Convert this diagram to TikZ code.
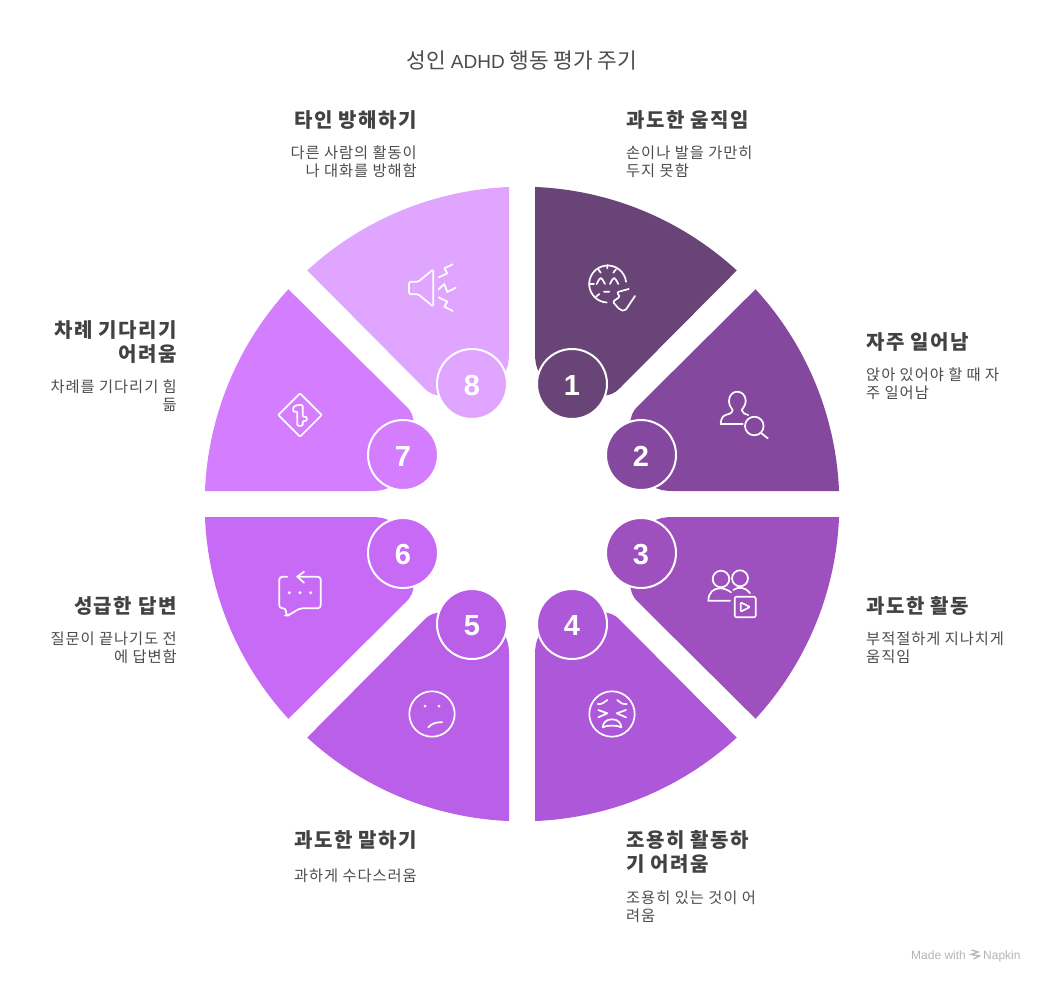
\documentclass[tikz,border=0pt]{standalone}
\usepackage{fontspec}
\setmainfont{Noto Sans CJK KR}
\newfontfamily\numfont{Liberation Sans}
\newfontfamily\headfont{Noto Sans CJK KR}[LetterSpace=7.7]
\newfontfamily\bodyfont{Noto Sans CJK KR}[LetterSpace=6.3]
\definecolor{wedgeone}{HTML}{694476}
\definecolor{wedgetwo}{HTML}{84499E}
\definecolor{wedgethree}{HTML}{9D50BE}
\definecolor{wedgefour}{HTML}{AD58D8}
\definecolor{wedgefive}{HTML}{BA60E8}
\definecolor{wedgesix}{HTML}{C76AF6}
\definecolor{wedgeseven}{HTML}{D47EFF}
\definecolor{wedgeeight}{HTML}{E0A5FF}
\definecolor{inktxt}{HTML}{424242}
\definecolor{softtxt}{HTML}{4C4C4C}
\definecolor{marktxt}{HTML}{B4B4B4}
\newcommand{\wedgeA}[1]{\fill[#1] (13,-317.03) arc[start angle=-87.65,end angle=-47.4,radius=317.3] -- (98,-116) .. controls (92,-110) and (88,-109) .. (80,-108) -- (18,-130) .. controls (14,-136) and (13,-143) .. (13,-151) -- cycle;}
\newcommand{\wedgeB}[1]{\fill[#1] (317.03,-13) arc[start angle=-2.35,end angle=-42.6,radius=317.3] -- (116,-98) .. controls (110,-92) and (109,-88) .. (108,-80) -- (130,-18) .. controls (136,-14) and (143,-13) .. (151,-13) -- cycle;}
\tikzset{
  badge/.style={circle, draw=white, line width=2, minimum size=70, inner sep=0, text=white, text height=23.5, text depth=0, font=\numfont\bfseries\fontsize{29}{29}\selectfont},
  headtxt/.style={inner sep=0, yshift=-1, text=inktxt, font=\headfont\bfseries\fontsize{20}{24}\selectfont},
  bodytxt/.style={inner sep=0, yshift=-1, text=softtxt, font=\bodyfont\fontsize{15.3}{18}\selectfont},
  iconline/.style={draw=white, line width=1.7, line join=round, line cap=round},
  icondot/.style={fill=white},
  marktext/.style={inner sep=0, anchor=base west, text=marktxt, font=\numfont\fontsize{12}{12}\selectfont},
}
\begin{document}
\begin{tikzpicture}[x=1pt, y=-1pt]
    \fill[white] (0,0) rectangle (1044,982);
    \useasboundingbox (0,0) rectangle (1044,982);
    \foreach \sx/\sy/\cola/\colb in {1/1/wedgeone/wedgetwo, 1/-1/wedgefour/wedgethree, -1/-1/wedgefive/wedgesix, -1/1/wedgeeight/wedgeseven} {
      \begin{scope}[shift={(522,504)}, xscale=\sx, yscale=\sy]
        \wedgeA{\cola}
        \wedgeB{\colb}
      \end{scope}
    }
    \node[badge, fill=wedgeone] (n1) at (572,384) {1};
    \node[badge, fill=wedgetwo] (n2) at (641,455) {2};
    \node[badge, fill=wedgethree] (n3) at (641,553) {3};
    \node[badge, fill=wedgefour] (n4) at (572,624) {4};
    \node[badge, fill=wedgefive] (n5) at (472,624) {5};
    \node[badge, fill=wedgesix] (n6) at (403,553) {6};
    \node[badge, fill=wedgeseven] (n7) at (403,455) {7};
    \node[badge, fill=wedgeeight] (n8) at (472,384) {8};
    % texts
    \node[inner sep=0, text=softtxt, font=\fontsize{21.4}{24}\selectfont] (title) at (522,60) {성인 {\numfont\fontsize{19}{24}\selectfont ADHD} 행동 평가 주기};
    \node[headtxt, anchor=west] (h1) at (626,119) {과도한 움직임};
    \node[bodytxt, anchor=west, align=left] (b1) at (626,161) {손이나 발을 가만히\\두지 못함};
    \node[headtxt, anchor=west] (h2) at (866,341) {자주 일어남};
    \node[bodytxt, anchor=west, align=left] (b2) at (866,383) {앉아 있어야 할 때 자\\주 일어남};
    \node[headtxt, anchor=west] (h3) at (866,605) {과도한 활동};
    \node[bodytxt, anchor=west, align=left] (b3) at (866,647) {부적절하게 지나치게\\움직임};
    \node[headtxt, anchor=west, align=left] (h4) at (626,851) {조용히 활동하\\기 어려움};
    \node[bodytxt, anchor=west, align=left] (b4) at (626,905.5) {조용히 있는 것이 어\\려움};
    \node[headtxt, anchor=east] (h5) at (417,839) {과도한 말하기};
    \node[bodytxt, anchor=east] (b5) at (417,875) {과하게 수다스러움};
    \node[headtxt, anchor=east] (h6) at (177,605) {성급한 답변};
    \node[bodytxt, anchor=east, align=right] (b6) at (177,647) {질문이 끝나기도 전\\에 답변함};
    \node[headtxt, anchor=east, align=right] (h7) at (177,341) {차례 기다리기\\어려움};
    \node[bodytxt, anchor=east, align=right] (b7) at (177,395) {차례를 기다리기 힘\\듦};
    \node[headtxt, anchor=east] (h8) at (417,119) {타인 방해하기};
    \node[bodytxt, anchor=east, align=right] (b8) at (417,161) {다른 사람의 활동이\\나 대화를 방해함};
    % icon 1
    \draw[iconline] (607.7,284) ++(-7:18.5) arc[start angle=-7,end angle=-267,radius=18.5];
    \draw[iconline] (607.3,265) -- (607.3,268.3) (598.3,269.3) -- (600.7,272.7) (616,269.3) -- (613.3,272.7) (589.3,284) -- (594,284) (596,296.7) -- (599.3,294);
    \draw[iconline] (596.7,284) .. controls (600.7,276) .. (605,284) (610,284) .. controls (614,276) .. (618.3,284) (604,291.7) -- (609.3,291.7);
    \draw[iconline, rounded corners=2] (628.7,289) -- (616.7,292.3) -- (620,296.7) -- (612.7,301.7) -- (620,310) -- (625,311) -- (635,296);
    % icon 2
    \draw[iconline] (742.7,424) -- (720.7,424) .. controls (721,418) and (723,415.5) .. (727,414.5) .. controls (731,413.5) and (733,412) .. (732.7,410) .. controls (731,408) and (729,405) .. (729,401) .. controls (729,395.5) and (732.5,391.7) .. (737.3,391.7) .. controls (742,391.7) and (745.7,395.5) .. (745.7,401) .. controls (745.7,405) and (743,408) .. (741.7,410) .. controls (742,413) and (745,414) .. (748.3,415);
    \draw[iconline] (754.3,426) circle[radius=9.3] (760.7,432.7) -- (767.7,438.3);
    % icon 3
    \draw[iconline] (721,579) circle[radius=8.3] (740,578.3) circle[radius=8];
    \draw[iconline] (730,600.7) -- (708.3,600.7) .. controls (708.5,592) and (714,588.3) .. (720,588.3) .. controls (724,588.3) and (728,590) .. (731,592.3);
    \draw[iconline] (733.3,590) .. controls (738,586.5) and (745,586.5) .. (750,593.3);
    \draw[iconline, rounded corners=2] (734.7,596.7) rectangle (755.7,617.3);
    \draw[iconline, rounded corners=1] (740.7,602.3) -- (750,607) -- (740.7,611.7) -- cycle;
    % icon 4
    \draw[iconline] (612,714) circle[radius=22.7];
    \draw[iconline] (597.7,704) .. controls (602,704) .. (607.3,700) (617.3,700) .. controls (622,704) .. (626.7,704);
    \draw[iconline] (598.3,710) -- (607.3,713.3) -- (598.3,717.3) (626,710) -- (616.7,713.3) -- (626,717.3);
    \draw[iconline] (612,719.3) .. controls (606,719.3) and (603,723) .. (602.7,727.3) .. controls (607,725) and (617,725) .. (621.3,727.3) .. controls (621,723) and (618,719.3) .. (612,719.3) -- cycle;
    % icon 5
    \draw[iconline] (432,714) circle[radius=22.7];
    \fill[icondot] (425,706) circle[radius=1.5] (439,706) circle[radius=1.5];
    \draw[iconline] (428.3,727.3) .. controls (432,723) and (437,722) .. (442.3,722.3);
    % icon 6
    \draw[iconline, rounded corners=3] (287.3,576.7) -- (279.3,576.7) -- (279.3,608.3) -- (286,608.3) -- (286,615.5) -- (288,615.5) -- (300,608.3) -- (320.7,608.3) -- (320.7,576.7) -- (297.3,576.7);
    \draw[iconline] (304,571.7) -- (297.3,576.7) -- (304,582.7);
    \fill[icondot] (289.3,592.7) circle[radius=1.6] (300,592.7) circle[radius=1.6] (310.7,592.7) circle[radius=1.6];
    % icon 7
    \draw[iconline, rounded corners=1] (300,393.3) -- (321.7,415) -- (300,436.7) -- (278.3,415) -- cycle;
    \draw[iconline, rounded corners=1] (297.3,405) -- (302.7,405) -- (302.7,416.7) -- (306.7,416.7) -- (306.7,421) -- (302.7,421) -- (302.7,425.7) -- (297.3,425.7) -- (297.3,411.7) -- (293.3,411.7) -- (293.3,407) -- cycle;
    % icon 8
    \draw[iconline, rounded corners=1.5] (409,281.7) -- (418.3,281.7) -- (433.3,269.3) -- (433.3,306.7) -- (418.3,294.3) -- (409,294.3) -- cycle;
    \draw[iconline] (452.7,264.3) -- (444.3,268.3) -- (447.3,273.3) -- (438.7,277.3);
    \draw[iconline] (438.7,289.3) -- (444.3,284) -- (447.3,292) -- (455.7,287.7);
    \draw[iconline] (438.7,297.3) -- (447.3,301.7) -- (444.3,306.7) -- (452.7,311);
    % footer
    \node[marktext] (made) at (911,959) {Made with};
    \node[marktext] (napkin) at (983,959) {Napkin};
    \draw[draw=marktxt, line width=1.3] (971.5,950) -- (978,952) -- (971.5,954.5) -- (979.5,956) -- (973.5,959);
\end{tikzpicture}
\end{document}
